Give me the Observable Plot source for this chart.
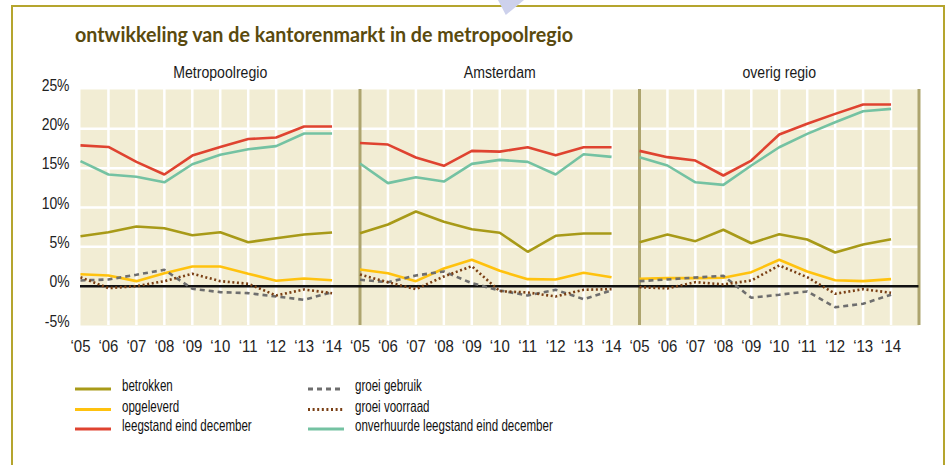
<!DOCTYPE html>
<html>
<head>
<meta charset="utf-8">
<script src="https://cdn.jsdelivr.net/npm/d3@7"></script>
<script src="https://cdn.jsdelivr.net/npm/@observablehq/plot@0.6"></script>
<style>
  html, body { margin: 0; padding: 0; background: #fff; }
  body { width: 949px; height: 465px; position: relative; overflow: hidden; }
  #frame { position: absolute; left: 11px; top: 5px; width: 934px; height: 500px; border: 2px solid #B5A52E; box-sizing: border-box; }
  #deco { position: absolute; left: 498px; top: 0; width: 26px; height: 15px; background: #CDD1EC; clip-path: polygon(0 0, 100% 0, 30% 100%); }
  #head { position: absolute; left: 0; top: 0; }
  #chart { position: absolute; left: 0; top: 50px; }
  #legend { position: absolute; left: 0; top: 370px; }
</style>
</head>
<body>
<div id="frame"></div>
<div id="deco"></div>
<div id="head"></div>
<div id="chart"></div>
<div id="legend"></div>
<script>
const title = "ontwikkeling van de kantorenmarkt in de metropoolregio";
const regions = ["Metropoolregio", "Amsterdam", "overig regio"];
const years = ["\u201805", "\u201806", "\u201807", "\u201808", "\u201809", "\u201810", "\u201811", "\u201812", "\u201813", "\u201814"];
const yTicks = [-5, 0, 5, 10, 15, 20, 25];
const yGrid = [5, 10, 15, 20];

// values in %, per region: Metropoolregio, Amsterdam, overig regio
const betrokken = [
  [6.35, 6.86, 7.59, 7.37, 6.48, 6.86, 5.59, 6.1, 6.57, 6.82],
  [6.73, 7.84, 9.49, 8.18, 7.24, 6.79, 4.37, 6.4, 6.7, 6.7],
  [5.59, 6.57, 5.72, 7.17, 5.46, 6.61, 5.93, 4.28, 5.3, 5.97]
];
const opgeleverd = [
  [1.52, 1.36, 0.64, 1.65, 2.5, 2.5, 1.58, 0.69, 0.98, 0.76],
  [2.12, 1.65, 0.64, 2.25, 3.35, 1.95, 0.89, 0.85, 1.7, 1.14],
  [0.94, 1.02, 1.02, 1.07, 1.78, 3.35, 1.87, 0.76, 0.64, 0.89]
];
const leegstand = [
  [17.9, 17.7, 15.8, 14.2, 16.6, 17.7, 18.7, 18.9, 20.3, 20.3],
  [18.2, 18.0, 16.35, 15.3, 17.2, 17.1, 17.66, 16.65, 17.66, 17.66],
  [17.2, 16.4, 15.97, 14.07, 15.97, 19.28, 20.64, 21.9, 23.1, 23.1]
];
const groeiGebruik = [
  [0.72, 0.85, 1.45, 2.08, -0.33, -0.76, -0.89, -1.31, -1.73, -0.76],
  [0.81, 0.5, 1.36, 1.87, 0.38, -0.55, -1.18, -0.46, -1.65, -0.55],
  [0.64, 0.85, 1.1, 1.32, -1.47, -1.09, -0.67, -2.67, -2.24, -1.09]
];
const groeiVoorraad = [
  [1.14, -0.25, 0, 0.64, 1.58, 0.64, 0.3, -1.18, -0.42, -0.89],
  [1.49, 0.5, -0.38, 1.23, 2.54, -0.64, -0.8, -1.31, -0.46, -0.38],
  [-0.13, -0.29, 0.51, 0.22, 0.72, 2.63, 1.14, -0.97, -0.38, -0.84]
];
const onverhuurd = [
  [15.9, 14.2, 13.9, 13.2, 15.5, 16.7, 17.4, 17.8, 19.4, 19.4],
  [15.6, 13.1, 13.85, 13.3, 15.55, 16.05, 15.8, 14.2, 16.77, 16.44],
  [16.4, 15.34, 13.2, 12.88, 15.34, 17.66, 19.36, 20.84, 22.24, 22.54]
];

const seriesNames = ["betrokken", "opgeleverd", "leegstand eind december", "groei gebruik", "groei voorraad", "onverhuurde leegstand eind december"];
const seriesValues = [betrokken, opgeleverd, leegstand, groeiGebruik, groeiVoorraad, onverhuurd];
const seriesColors = ["#A89A18", "#FFC20E", "#DF4330", "#6E6E6E", "#7A3F14", "#74C2A2"];
const seriesDash = [null, null, null, "5,4", "2,2.6", null];
const drawOrder = [5, 2, 0, 1, 3, 4];

const font = "'Liberation Sans', Arial, sans-serif";
const slots = years.length;
const tickIdx = regions.flatMap((r, p) => years.map((y, k) => p * slots + k));
const gridIdx = tickIdx.filter(i => i % slots !== 0);
const dividerIdx = regions.map((r, p) => (p + 1) * slots);

const rowsFor = s => seriesValues[s].flatMap((arr, p) => arr.map((v, k) => ({panel: p, i: p * slots + k, v})));

const marks = [
  Plot.frame({fill: "#F2EDD4", stroke: null}),
  Plot.ruleY(yGrid, {stroke: "#fff", strokeWidth: 2.5}),
  Plot.ruleX(gridIdx, {stroke: "#fff", strokeWidth: 2.5}),
  Plot.ruleX(dividerIdx, {stroke: "#ADA46E", strokeWidth: 3}),
  Plot.ruleY([0], {stroke: "#111", strokeWidth: 2.5}),
  ...drawOrder.map(s => Plot.line(rowsFor(s), {
    x: "i", y: "v", z: "panel",
    stroke: seriesColors[s], strokeWidth: 2.6,
    strokeDasharray: seriesDash[s], strokeLinejoin: "miter", strokeLinecap: "butt"
  })),
  Plot.text(yTicks, {y: d => d, frameAnchor: "left", dx: -11, dy: -4, textAnchor: "end", lineAnchor: "middle", text: d => `${d}%`, fontSize: 16, fill: "#222"}),
  Plot.text(tickIdx, {x: d => d, frameAnchor: "bottom", lineAnchor: "middle", dy: 21, text: d => years[d % slots], fontSize: 17, fill: "#222"}),
  Plot.text(regions, {x: (d, p) => p * slots + slots / 2, frameAnchor: "top", lineAnchor: "middle", dy: -17, text: d => d, fontSize: 16, fill: "#1a1a1a"})
];

const chart = Plot.plot({
  width: 949,
  height: 310,
  marginTop: 39,
  marginBottom: 35,
  marginLeft: 80,
  marginRight: 30.5,
  x: {domain: [0, regions.length * slots], axis: null},
  y: {domain: [yTicks[0], yTicks[yTicks.length - 1]], axis: null},
  style: {fontFamily: font, background: "transparent", overflow: "visible"},
  marks
});
document.getElementById("chart").appendChild(chart);

// narrow the text horizontally (condensed look of the original typeface)
function squeeze(nodes, factor) {
  nodes.forEach(t => {
    const w = t.getComputedTextLength();
    if (w > 0) {
      t.setAttribute("textLength", (w * factor).toFixed(2));
      t.setAttribute("lengthAdjust", "spacingAndGlyphs");
    }
  });
}
Array.from(chart.querySelectorAll("text")).forEach(t => {
  const s = t.textContent;
  const factor = years.includes(s) ? 0.88 : regions.includes(s) ? 0.88 : 0.87;
  squeeze([t], factor);
});

// title
const head = d3.select("#head").append("svg").attr("width", 949).attr("height", 50);
head.append("text").attr("x", 75).attr("y", 42)
  .attr("font-family", "Lato, 'Open Sans', sans-serif").attr("font-weight", 700)
  .attr("font-size", 20.5).attr("fill", "#5A4A0E")
  .attr("textLength", 498).attr("lengthAdjust", "spacingAndGlyphs")
  .text(title);

// legend
const leg = d3.select("#legend").append("svg").attr("width", 949).attr("height", 80);
const legendCols = [[0, 1, 2], [3, 4, 5]];
const colX = [75, 308];
const rowY = [19, 39.5, 59];
legendCols.forEach((col, c) => col.forEach((s, r) => {
  const g = leg.append("g");
  g.append("line").attr("x1", colX[c]).attr("x2", colX[c] + 36)
    .attr("y1", rowY[r]).attr("y2", rowY[r])
    .attr("stroke", seriesColors[s]).attr("stroke-width", 3)
    .attr("stroke-dasharray", seriesDash[s]);
  g.append("text").attr("x", colX[c] + 47).attr("y", rowY[r] + 2)
    .attr("font-family", font).attr("font-size", 16.5).attr("fill", "#111")
    .text(seriesNames[s]);
}));
squeeze(Array.from(leg.node().querySelectorAll("text")), 0.7);
</script>
</body>
</html>
